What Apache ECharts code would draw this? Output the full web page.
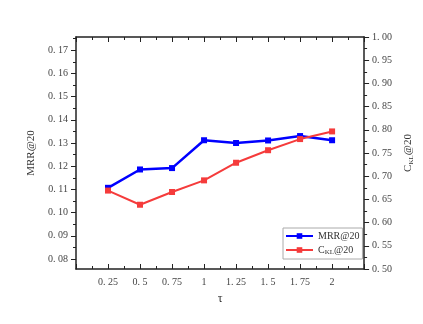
<!DOCTYPE html>
<html><head><meta charset="utf-8">
<script src="https://cdn.jsdelivr.net/npm/echarts@6/dist/echarts.min.js"></script>
<style>html,body{margin:0;padding:0;background:#fff}#c{width:423px;height:324px}</style>
</head><body><div id="c"></div>
<script>
const tauValues = [0.25, 0.5, 0.75, 1, 1.25, 1.5, 1.75, 2];
const mrrValues = [0.1107, 0.1186, 0.1192, 0.1312, 0.1300, 0.1311, 0.1330, 0.1312];
const cklValues = [0.669, 0.6385, 0.666, 0.691, 0.729, 0.756, 0.780, 0.7965];
const leftMajorTicks = [0.08, 0.09, 0.10, 0.11, 0.12, 0.13, 0.14, 0.15, 0.16, 0.17];
const leftMinorTicks = [0.085, 0.095, 0.105, 0.115, 0.125, 0.135, 0.145, 0.155, 0.165, 0.175];

const FONT = '"Liberation Serif", "DejaVu Serif", serif';
const axisCol = '#222';
const lblCol = '#444';
const fmt = v => String(+v.toFixed(3)).replace('.', '. ');
const fmt2 = v => v.toFixed(2).replace('.', '. ');
const LMIN = 0.0757, LMAX = 0.1757;

const chart = echarts.init(document.getElementById('c'), null, {renderer: 'canvas'});
chart.setOption({
  backgroundColor: '#fff',
  animation: false,
  grid: {left: 76, right: 58, top: 37, bottom: 55, containLabel: false},
  legend: {
    left: 283, top: 228, orient: 'vertical', itemGap: 4,
    itemWidth: 27, itemHeight: 7,
    padding: [3, 3, 3, 2],
    borderColor: '#aaa', borderWidth: 1, backgroundColor: '#fff',
    textStyle: {fontFamily: FONT, fontSize: 10, color: '#333',
      rich: {a: {fontFamily: FONT, fontSize: 10, color: '#333'},
             s: {fontFamily: FONT, fontSize: 7, color: '#333', padding: [5, 0, 0, 0]}}},
    formatter: n => n === 'CKL@20' ? '{a|C}{s|KL}{a|@20}' : n,
    data: ['MRR@20', 'CKL@20']
  },
  xAxis: [
    {type: 'value', position: 'bottom', min: 0, max: 2.25, interval: 0.25,
     name: 'τ', nameLocation: 'middle', nameGap: 24,
     nameTextStyle: {fontFamily: FONT, fontSize: 12, color: '#333'},
     axisLine: {show: true, lineStyle: {color: axisCol, width: 1.5}},
     axisTick: {show: true, inside: true, length: 5, lineStyle: {color: axisCol}},
     minorTick: {show: true, splitNumber: 2, length: 3, lineStyle: {color: axisCol}},
     axisLabel: {fontFamily: FONT, fontSize: 10, color: lblCol, margin: 8,
       formatter: v => (v < 0.1 || v > 2.2) ? '' : fmt(v)},
     splitLine: {show: false}, minorSplitLine: {show: false}},
    {type: 'value', position: 'top', min: 0, max: 2.25, interval: 0.25,
     axisLine: {show: true, lineStyle: {color: axisCol, width: 1.5}},
     axisTick: {show: true, inside: true, length: 5, lineStyle: {color: axisCol}},
     minorTick: {show: true, splitNumber: 2, length: 3, lineStyle: {color: axisCol}},
     axisLabel: {show: false}, splitLine: {show: false}}
  ],
  yAxis: [
    {type: 'value', position: 'left', min: LMIN, max: LMAX,
     name: 'MRR@20', nameLocation: 'middle', nameGap: 34, nameRotate: 90,
     nameTextStyle: {fontFamily: FONT, fontSize: 11, color: '#333'},
     axisLine: {show: true, onZero: false, lineStyle: {color: axisCol, width: 1.5}},
     axisTick: {show: true, length: 5, customValues: leftMajorTicks, lineStyle: {color: axisCol}},
     axisLabel: {fontFamily: FONT, fontSize: 10, color: lblCol, margin: 8,
       customValues: leftMajorTicks, formatter: v => fmt2(v)},
     splitLine: {show: false}},
    {type: 'value', position: 'left', min: LMIN, max: LMAX,
     axisLine: {show: false},
     axisTick: {show: true, length: 3, customValues: leftMinorTicks, lineStyle: {color: axisCol}},
     axisLabel: {show: false}, splitLine: {show: false}},
    {type: 'value', position: 'right', min: 0.5, max: 1.0, interval: 0.05,
     name: '{a|C}{s|KL}{a|@20}', nameLocation: 'middle', nameGap: 30, nameRotate: 90,
     nameTextStyle: {fontFamily: FONT, fontSize: 11, color: '#333',
       rich: {a: {fontFamily: FONT, fontSize: 11, color: '#333'},
              s: {fontFamily: FONT, fontSize: 7, color: '#333', padding: [6, 0, 0, 0]}}},
     axisLine: {show: true, onZero: false, lineStyle: {color: axisCol, width: 1.5}},
     axisTick: {show: true, length: 5, lineStyle: {color: axisCol}},
     minorTick: {show: true, splitNumber: 2, length: 3, lineStyle: {color: axisCol}},
     axisLabel: {fontFamily: FONT, fontSize: 10, color: lblCol, margin: 8, formatter: v => fmt2(v)},
     splitLine: {show: false}, minorSplitLine: {show: false}}
  ],
  series: [
    {name: 'MRR@20', type: 'line', xAxisIndex: 0, yAxisIndex: 0,
     data: tauValues.map((t, i) => [t, mrrValues[i]]),
     symbol: 'rect', symbolSize: 6,
     lineStyle: {color: '#0000ff', width: 2.5}, itemStyle: {color: '#0000ff'}},
    {name: 'CKL@20', type: 'line', xAxisIndex: 0, yAxisIndex: 2,
     data: tauValues.map((t, i) => [t, cklValues[i]]),
     symbol: 'rect', symbolSize: 6,
     lineStyle: {color: '#f53b3b', width: 2}, itemStyle: {color: '#f53b3b'}}
  ]
});
</script>
</body></html>
